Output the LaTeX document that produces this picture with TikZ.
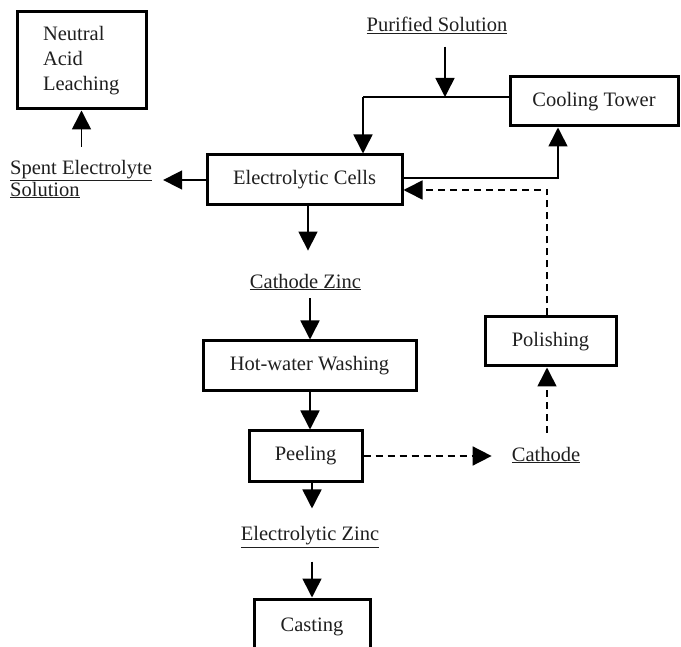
\documentclass[tikz,border=0pt]{standalone}
\usepackage{fontspec}
\setmainfont{Liberation Serif}
\usetikzlibrary{arrows.meta,calc}
\begin{document}
\begin{tikzpicture}[x=1pt,y=-1pt,
  every node/.style={font=\fontsize{20.5}{25}\selectfont, text=black!88},
  procbox/.style={draw=black, line width=3pt, inner sep=0pt, align=center},
  streamtext/.style={inner sep=0pt, align=center},
  plainline/.style={line width=1.6pt},
  flow/.style={plainline, -{Triangle[length=19pt,width=19pt]}},
  dashflow/.style={flow, dash pattern=on 7pt off 5pt},
]
\useasboundingbox (0,0) rectangle (681,647);

% process boxes
\node[procbox, minimum width=129pt, minimum height=97pt, text width=77pt, align=left]
  (nal) at (81.5,60.5) {Neutral\\Acid\\Leaching};
\node[procbox, minimum width=195pt, minimum height=50pt] (cells) at (304.5,180) {Electrolytic Cells};
\node[procbox, minimum width=168pt, minimum height=49pt] (cooling) at (594,101.5) {Cooling Tower};
\node[procbox, minimum width=213pt, minimum height=50pt] (hot) at (309.5,366) {Hot-water Washing};
\node[procbox, minimum width=113pt, minimum height=50pt] (peeling) at (305.5,456) {Peeling};
\node[procbox, minimum width=131pt, minimum height=49pt] (polishing) at (550.5,341.5) {Polishing};
\node[procbox, minimum width=116pt, minimum height=56pt] (casting) at (312,627) {Casting};

% streams
\node[streamtext, align=left, anchor=west] (spent) at (10,179)
  {\underline{Spent Electrolyte}\\[-3pt]\underline{Solution}};
\node[streamtext] (purified) at (437,25) {\underline{Purified Solution}};
\node[streamtext] (czinc) at (305.5,282) {\underline{Cathode Zinc}};
\node[streamtext] (cathode) at (546,455) {\underline{Cathode}};
\node[streamtext] (ezinc) at (310,537) {\underline{Electrolytic Zinc}};

% junction points
\coordinate (split) at (363,97);
\coordinate (merge) at (445,97);
\coordinate (riser) at (558,178);
\coordinate (ret) at (547,190);

% electrolyte loop
\draw[plainline] (cooling.west |- split) -- (split);
\draw[flow] (split) -- (split |- cells.north);
\draw[flow, shorten <=13pt] (purified.south -| merge) -- (merge);
\draw[flow] (cells.east |- riser) -- (riser) -- (riser |- cooling.south);
\draw[flow, shorten >=11pt] (cells.west) -- (cells.west -| spent.east);
\draw[flow, shorten <=13pt] (spent.north -| nal.south) -- (nal.south);

% zinc line
\draw[flow, shorten >=23pt] ([xshift=3.5pt]cells.south) -- ([xshift=2.5pt]czinc.north);
\draw[flow, shorten <=8pt] ([xshift=4.5pt]czinc.south) -- ([xshift=0.5pt]hot.north);
\draw[flow] ([xshift=0.5pt]hot.south) -- ([xshift=4.5pt]peeling.north);
\draw[flow, shorten >=18pt] ([xshift=6.5pt]peeling.south) -- ([xshift=2pt]ezinc.north);
\draw[flow, shorten <=14pt] ([xshift=2pt]ezinc.south) -- (casting.north);

% cathode return
\draw[dashflow, shorten >=20pt] (peeling.east) -- (peeling.east -| cathode.west);
\draw[dashflow, shorten <=14pt] (cathode.north -| ret) -- (polishing.south -| ret);
\draw[dashflow] (polishing.north -| ret) -- (ret) -- (ret -| cells.east);
\end{tikzpicture}
\end{document}
